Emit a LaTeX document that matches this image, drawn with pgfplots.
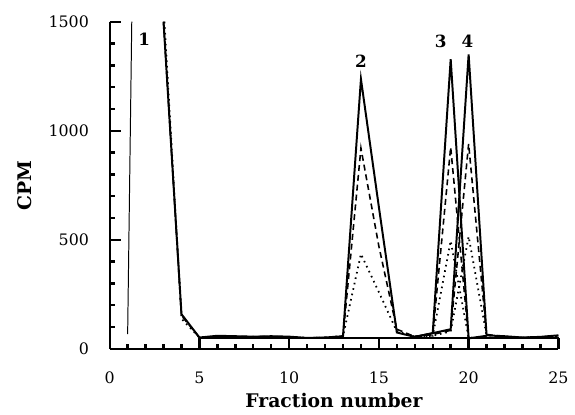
\documentclass[border=0pt]{standalone}
\usepackage{fontspec}
\setmainfont{DejaVu Serif}
\usepackage{pgfplots}
\pgfplotsset{compat=1.18}

\begin{document}
\begin{tikzpicture}
\begin{axis}[
  name=ax,
  scale only axis, width=227pt, height=165.5pt,
  xmin=0, xmax=25, ymin=0, ymax=1500,
  axis x line*=bottom, axis y line*=left,
  axis line style={line width=1pt},
  xtick={0,5,...,25}, ytick={0,500,1000,1500},
  minor x tick num=4, minor y tick num=4,
  major tick length=5.5pt, minor tick length=2.5pt,
  major tick style={black, line width=1.2pt},
  minor tick style={black, line width=1.2pt},
  /pgf/number format/1000 sep={},
  /pgf/number format/assume math mode=true,
  tick label style={font=\fontsize{8}{9}\selectfont},
  yticklabel style={xshift=-7pt},
  xticklabel style={yshift=-8pt},
  xlabel={\textbf{Fraction number}},
  ylabel={\textbf{CPM}},
  label style={font=\fontsize{9.5}{11}\selectfont},
  xlabel style={at={(axis description cs:0.5,-0.157)}, anchor=center},
  ylabel style={at={(axis description cs:-0.19,0.5)}, anchor=center},
  clip=false,
]
% void marker line
\addplot[black, line width=0.5pt] coordinates {(1.0,68) (1.23,1500)};
% base strip
\addplot[black, line width=0.6pt] coordinates {(5,50) (25,50) (25,0)};
% solid
\addplot[black, line width=1pt] coordinates {
(3,1500)(4,159)(5,52)(6,60)(7,58)(8,56)(9,58)(10,56)(11,50)(12,52)(13,58)
(14,1237)(15,650)(16,75)(17,55)(18,72)(19,90)(20,1350)(21,62)(22,58)(23,52)(24,55)(25,62)};
\addplot[black, line width=1pt] coordinates {(17,55)(18,72)(19,1328)(20,48)(21,60)};
% dashed
\addplot[black, line width=0.8pt, dash pattern=on 3pt off 2pt] coordinates {
(3,1500)(4,152)(5,52)(6,58)(7,56)(8,55)(9,56)(10,55)(11,50)(12,52)(13,58)
(14,920)(15,470)(16,90)(17,56)(18,66)(19,85)(20,940)(21,66)(22,56)(23,52)(24,54)(25,60)};
\addplot[black, line width=0.8pt, dash pattern=on 3pt off 2pt] coordinates {(17,56)(18,66)(19,925)(20,50)(21,56)};
% dotted
\addplot[black, line width=0.9pt, dash pattern=on 0.8pt off 2pt] coordinates {
(3.05,1500)(4,138)(5,52)(6,56)(7,55)(8,55)(9,55)(10,54)(11,50)(12,52)(13,58)
(14,435)(15,260)(16,80)(17,56)(18,60)(19,80)(20,515)(21,62)(22,55)(23,52)(24,54)(25,60)};
\addplot[black, line width=0.9pt, dash pattern=on 0.8pt off 2pt] coordinates {(17,56)(18,60)(19,495)(20,50)(21,56)};
\node[font=\bfseries\fontsize{8.5}{10}\selectfont] at (axis cs:1.93,1418) {1};
\node[font=\bfseries\fontsize{8.5}{10}\selectfont] at (axis cs:14,1319) {2};
\node[font=\bfseries\fontsize{8.5}{10}\selectfont] at (axis cs:18.45,1409) {3};
\node[font=\bfseries\fontsize{8.5}{10}\selectfont] at (axis cs:19.93,1409) {4};
\end{axis}
\path ([shift={(-55.5pt,-31.5pt)}]ax.south west) rectangle ([shift={(5pt,11pt)}]ax.north east);
\end{tikzpicture}
\end{document}
